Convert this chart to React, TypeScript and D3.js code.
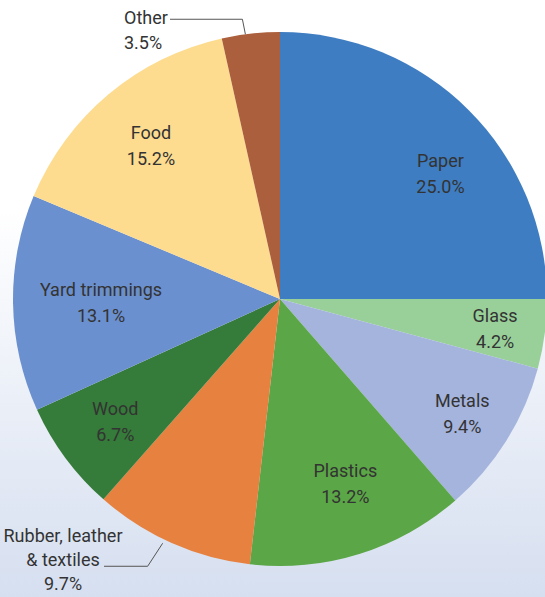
import * as d3 from "d3";
import { useEffect, useRef } from "react";

const categories = ["Paper", "Glass", "Metals", "Plastics", "Rubber, leather & textiles", "Wood", "Yard trimmings", "Food", "Other"];
const shares = [25.0, 4.2, 9.4, 13.2, 9.7, 6.7, 13.1, 15.2, 3.5];
const colors = ["#3e7dc1", "#99d09a", "#a5b4dd", "#5ba646", "#e7813f", "#357b39", "#6b90cf", "#fddc90", "#ab5f3c"];

const W = 545;
const H = 597;

const App = () => {
    const ref = useRef<SVGSVGElement>(null);

    useEffect(() => {
        const svg = d3.select(ref.current);
        svg.selectAll("*").remove();

        // фон с лёгким градиентом снизу
        const grad = svg.append("defs").append("linearGradient")
            .attr("id", "bg").attr("x1", 0).attr("y1", 0).attr("x2", 0).attr("y2", 1);
        grad.append("stop").attr("offset", "0.35").attr("stop-color", "#ffffff");
        grad.append("stop").attr("offset", "1").attr("stop-color", "#d6dff0");
        svg.append("rect").attr("width", W).attr("height", H).attr("fill", "url(#bg)");

        const cx = 280, cy = 299, r = 267;
        const g = svg.append("g").attr("transform", `translate(${cx},${cy})`);

        const pie = d3.pie<number>().sort(null).value(d => d);
        const arcs = pie(shares);
        const arc = d3.arc<d3.PieArcDatum<number>>().innerRadius(0).outerRadius(r);

        g.selectAll("path.slice")
            .data(arcs).enter()
            .append("path")
            .attr("class", "slice")
            .attr("d", arc)
            .attr("fill", (d, i) => colors[i]);

        const font = "Roboto, 'Open Sans', sans-serif";
        const fs = 18;
        const txt = "#333333";

        // внутренние подписи: радиус подписи для каждого сектора
        const labelR: Record<string, number> = {
            "Paper": 204, "Glass": 217, "Metals": 215, "Plastics": 195,
            "Wood": 205, "Yard trimmings": 179, "Food": 201
        };
        const angShift: Record<string, number> = { "Paper": 0.12, "Plastics": -0.04 };

        arcs.forEach((a, i) => {
            const name = categories[i];
            if (!(name in labelR)) return;
            const mid = (a.startAngle + a.endAngle) / 2 + (angShift[name] || 0);
            const lr = labelR[name];
            const x = Math.sin(mid) * lr;
            const y = -Math.cos(mid) * lr;
            const t = g.append("text")
                .attr("text-anchor", "middle")
                .attr("font-family", font)
                .attr("font-size", fs)
                .attr("fill", txt);
            t.append("tspan").attr("x", x).attr("y", y - 6).text(name);
            t.append("tspan").attr("x", x).attr("y", y + 20).text(shares[i].toFixed(1) + "%");
        });

        // выносные подписи
        const line = d3.line();
        const other = arcs[8];
        const oMid = (other.startAngle + other.endAngle) / 2 - 0.02;
        const ox = Math.sin(oMid) * r, oy = -Math.cos(oMid) * r;
        g.append("path")
            .attr("d", line([[ox, oy], [ox - 3, oy - 15], [-110, oy - 15]]))
            .attr("fill", "none").attr("stroke", "#555").attr("stroke-width", 1);
        const to = g.append("text").attr("font-family", font).attr("font-size", fs).attr("fill", txt);
        to.append("tspan").attr("x", -156).attr("y", oy - 10).text("Other");
        to.append("tspan").attr("x", -156).attr("y", oy + 15).text(shares[8].toFixed(1) + "%");

        const rub = arcs[4];
        const rMid = (rub.startAngle + rub.endAngle) / 2 + 0.03;
        const rx = Math.sin(rMid) * (r + 4), ry = -Math.cos(rMid) * (r + 4);
        g.append("path")
            .attr("d", line([[rx, ry], [rx - 15, ry + 23], [-176, ry + 23]]))
            .attr("fill", "none").attr("stroke", "#555").attr("stroke-width", 1);
        const tr = g.append("text").attr("text-anchor", "middle")
            .attr("font-family", font).attr("font-size", fs).attr("fill", txt);
        tr.append("tspan").attr("x", -217).attr("y", ry - 1).text("Rubber, leather");
        tr.append("tspan").attr("x", -217).attr("y", ry + 23).text("& textiles");
        tr.append("tspan").attr("x", -217).attr("y", ry + 47).text(shares[4].toFixed(1) + "%");
    }, []);

    return (
        <svg ref={ref} width={W} height={H} style={{ position: "absolute", left: 0, top: 0 }}></svg>
    );
};

export default App;
